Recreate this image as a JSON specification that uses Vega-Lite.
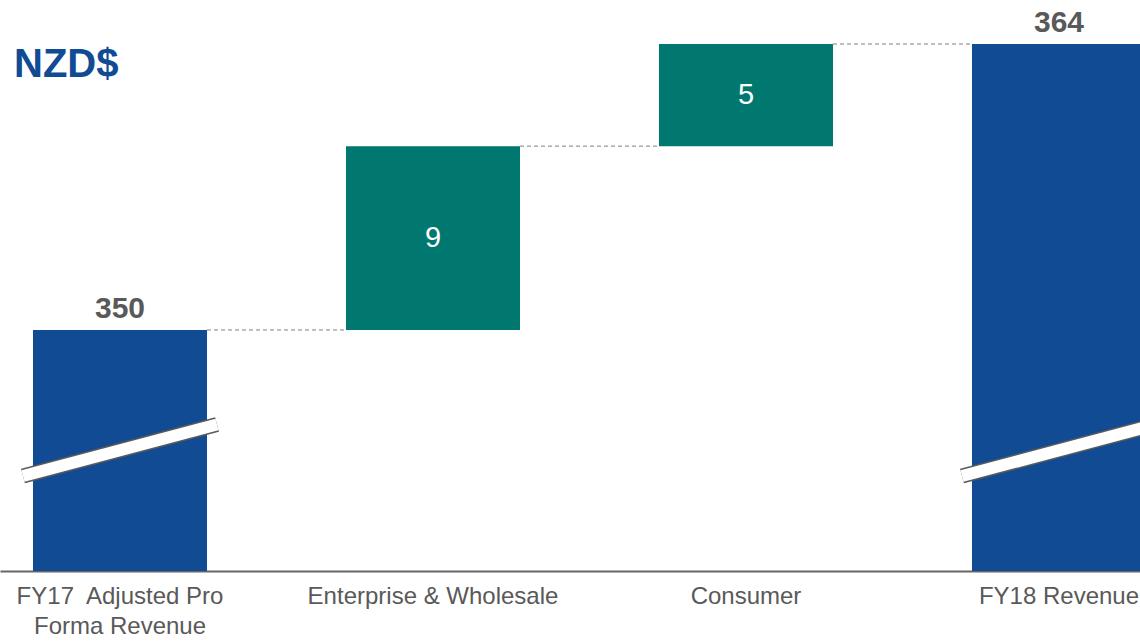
{
  "$schema": "https://vega.github.io/schema/vega-lite/v6.json",
  "width": 1179,
  "height": 571,
  "padding": 0,
  "autosize": {"type": "pad"},
  "background": "white",
  "config": {"view": {"stroke": null}, "font": "Liberation Sans"},
  "data": {"values": [
    {"category": "FY17\u00a0 Adjusted Pro Forma Revenue", "start": 0, "end": 350, "kind": "total"},
    {"category": "Enterprise & Wholesale", "start": 350, "end": 359, "kind": "change"},
    {"category": "Consumer", "start": 359, "end": 364, "kind": "change"},
    {"category": "FY18 Revenue", "start": 0, "end": 364, "kind": "total"}
  ]},
  "transform": [
    {"calculate": "datum.kind == 'total' ? datum.end : datum.end - datum.start", "as": "amount"},
    {"calculate": "(datum.start + datum.end) / 2", "as": "mid"},
    {"window": [{"op": "lead", "field": "category", "as": "next"}]}
  ],
  "encoding": {
    "x": {
      "field": "category",
      "type": "nominal",
      "sort": null,
      "scale": {
        "domain": ["FY17\u00a0 Adjusted Pro Forma Revenue", "Enterprise & Wholesale", "Consumer", "FY18 Revenue"],
        "paddingInner": 0.444,
        "paddingOuter": 0.1054
      },
      "axis": {
        "title": null,
        "labelAngle": 0,
        "ticks": false,
        "domain": true,
        "domainColor": "#666666",
        "domainWidth": 2,
        "labelFont": "Liberation Sans",
        "labelFontSize": 24,
        "labelColor": "#595959",
        "labelPadding": 13,
        "labelLineHeight": 30,
        "labelLimit": 500,
        "labelOverlap": false,
        "labelExpr": "indexof(datum.label, 'Forma') > 0 ? ['FY17\u00a0 Adjusted Pro', 'Forma Revenue'] : datum.label"
      }
    }
  },
  "layer": [
    {
      "mark": {"type": "bar", "clip": true},
      "encoding": {
        "y": {"field": "start", "type": "quantitative", "scale": {"domain": [338.2, 366.154], "nice": false, "zero": false}, "axis": null},
        "y2": {"field": "end"},
        "color": {"field": "kind", "type": "nominal", "scale": {"domain": ["total", "change"], "range": ["#114B94", "#00786F"]}, "legend": null}
      }
    },
    {
      "transform": [{"filter": "datum.next != null"}],
      "mark": {"type": "rule", "strokeDash": [4, 3], "color": "#808080", "strokeWidth": 1},
      "encoding": {
        "x": {"field": "category", "type": "nominal", "sort": null, "bandPosition": 1},
        "x2": {"field": "next", "bandPosition": 0},
        "y": {"field": "end", "type": "quantitative"}
      }
    },
    {
      "transform": [{"filter": "datum.kind == 'total'"}],
      "mark": {"type": "rule", "color": "#5a5a5a", "strokeWidth": 15, "strokeCap": "butt", "xOffset": -10, "x2Offset": 10},
      "encoding": {
        "x": {"field": "category", "type": "nominal", "sort": null, "bandPosition": 0},
        "x2": {"field": "category", "bandPosition": 1},
        "y": {"datum": 342.85, "type": "quantitative"},
        "y2": {"datum": 345.37}
      }
    },
    {
      "transform": [{"filter": "datum.kind == 'total'"}],
      "mark": {"type": "rule", "color": "white", "strokeWidth": 12, "strokeCap": "butt", "xOffset": -10, "x2Offset": 10},
      "encoding": {
        "x": {"field": "category", "type": "nominal", "sort": null, "bandPosition": 0},
        "x2": {"field": "category", "bandPosition": 1},
        "y": {"datum": 342.85, "type": "quantitative"},
        "y2": {"datum": 345.37}
      }
    },
    {
      "transform": [{"filter": "datum.kind == 'total'"}],
      "mark": {"type": "text", "fontSize": 30, "fontWeight": "bold", "color": "#595959", "baseline": "alphabetic", "dy": -12},
      "encoding": {
        "y": {"field": "end", "type": "quantitative"},
        "text": {"field": "amount", "type": "quantitative"}
      }
    },
    {
      "transform": [{"filter": "datum.kind == 'change'"}],
      "mark": {"type": "text", "fontSize": 29, "color": "white", "baseline": "middle"},
      "encoding": {
        "y": {"field": "mid", "type": "quantitative"},
        "text": {"field": "amount", "type": "quantitative"}
      }
    },
    {
      "data": {"values": [{"label": "NZD$"}]},
      "mark": {"type": "text", "fontSize": 40, "fontWeight": "bold", "color": "#114B94", "align": "left", "baseline": "alphabetic", "dx": -106},
      "encoding": {
        "x": {"datum": "FY17\u00a0 Adjusted Pro Forma Revenue"},
        "y": {"datum": 362.385, "type": "quantitative"},
        "text": {"field": "label", "type": "nominal"}
      }
    }
  ]
}
